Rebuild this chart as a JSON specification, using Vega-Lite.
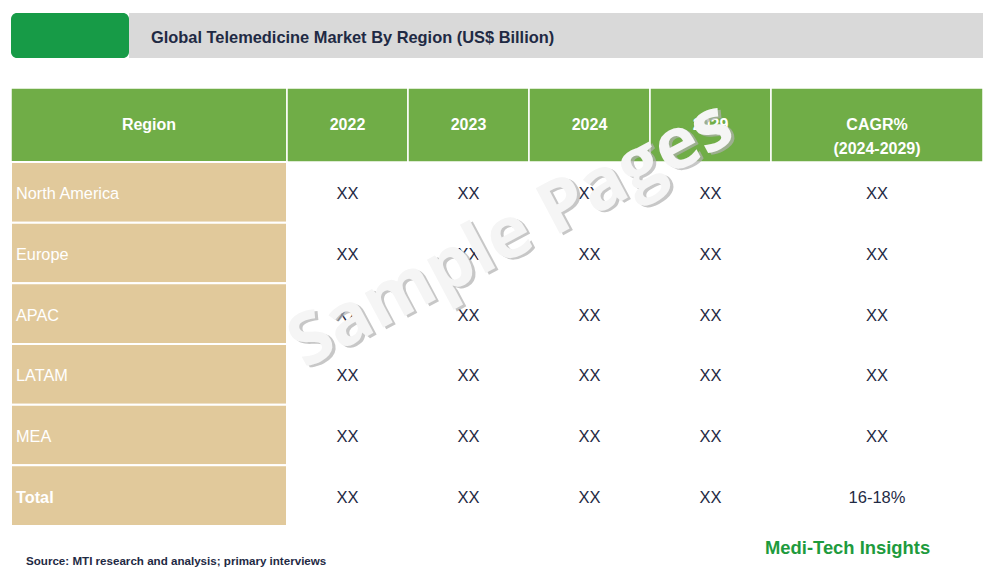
{
  "$schema": "https://vega.github.io/schema/vega-lite/v6.json",
  "padding": {"left": 10, "top": 13, "right": 10, "bottom": 0},
  "background": "white",
  "spacing": 29,
  "datasets": {
    "titlebar": [{"title": "Global Telemedicine Market By Region (US$ Billion)"}],
    "header": [
      {"column": "Region", "label": "Region"},
      {"column": "2022", "label": "2022"},
      {"column": "2023", "label": "2023"},
      {"column": "2024", "label": "2024"},
      {"column": "2029", "label": "2029"},
      {"column": "CAGR%", "label": "CAGR%\n(2024-2029)"}
    ],
    "cells": [
      {"region": "North America", "column": "Region", "value": "North America"},
      {"region": "North America", "column": "2022", "value": "XX"},
      {"region": "North America", "column": "2023", "value": "XX"},
      {"region": "North America", "column": "2024", "value": "XX"},
      {"region": "North America", "column": "2029", "value": "XX"},
      {"region": "North America", "column": "CAGR%", "value": "XX"},
      {"region": "Europe", "column": "Region", "value": "Europe"},
      {"region": "Europe", "column": "2022", "value": "XX"},
      {"region": "Europe", "column": "2023", "value": "XX"},
      {"region": "Europe", "column": "2024", "value": "XX"},
      {"region": "Europe", "column": "2029", "value": "XX"},
      {"region": "Europe", "column": "CAGR%", "value": "XX"},
      {"region": "APAC", "column": "Region", "value": "APAC"},
      {"region": "APAC", "column": "2022", "value": "XX"},
      {"region": "APAC", "column": "2023", "value": "XX"},
      {"region": "APAC", "column": "2024", "value": "XX"},
      {"region": "APAC", "column": "2029", "value": "XX"},
      {"region": "APAC", "column": "CAGR%", "value": "XX"},
      {"region": "LATAM", "column": "Region", "value": "LATAM"},
      {"region": "LATAM", "column": "2022", "value": "XX"},
      {"region": "LATAM", "column": "2023", "value": "XX"},
      {"region": "LATAM", "column": "2024", "value": "XX"},
      {"region": "LATAM", "column": "2029", "value": "XX"},
      {"region": "LATAM", "column": "CAGR%", "value": "XX"},
      {"region": "MEA", "column": "Region", "value": "MEA"},
      {"region": "MEA", "column": "2022", "value": "XX"},
      {"region": "MEA", "column": "2023", "value": "XX"},
      {"region": "MEA", "column": "2024", "value": "XX"},
      {"region": "MEA", "column": "2029", "value": "XX"},
      {"region": "MEA", "column": "CAGR%", "value": "XX"},
      {"region": "Total", "column": "Region", "value": "Total"},
      {"region": "Total", "column": "2022", "value": "XX"},
      {"region": "Total", "column": "2023", "value": "XX"},
      {"region": "Total", "column": "2024", "value": "XX"},
      {"region": "Total", "column": "2029", "value": "XX"},
      {"region": "Total", "column": "CAGR%", "value": "16-18%"}
    ]
  },
  "vconcat": [
    {
      "spacing": 0,
      "hconcat": [
        {
          "width": 118, "height": 45,
          "data": {"name": "titlebar"},
          "view": {"fill": "#179b47", "cornerRadius": 6, "stroke": null},
          "mark": {"type": "text"},
          "encoding": {"text": {"value": ""}}
        },
        {
          "width": 854, "height": 45,
          "data": {"name": "titlebar"},
          "view": {"fill": "#d9d9d9", "stroke": null},
          "mark": {"type": "text", "align": "left", "baseline": "middle", "font": "Liberation Sans, Arial, sans-serif", "fontSize": 16.4, "fontWeight": "bold", "color": "#1f2a44"},
          "encoding": {"text": {"field": "title"}, "x": {"value": 22}, "y": {"value": 25}}
        }
      ]
    },
    {
      "width": 972,
      "height": 438,
      "resolve": {"scale": {"x": "independent", "y": "independent"}},
      "layer": [
        {
          "data": {"name": "header"},
          "transform": [{"filter": "datum.column === 'Region'"}],
          "mark": {"type": "rect", "fill": "#70ad47", "stroke": "white", "strokeWidth": 1.5},
          "encoding": {
            "x": {"field": "column", "type": "nominal", "axis": null, "scale": {"type": "band", "domain": ["Region"], "range": [0, 276], "paddingInner": 0, "paddingOuter": 0}},
            "y": {"datum": "Header", "type": "nominal", "axis": null, "scale": {"type": "band", "domain": ["Header"], "range": [0, 74], "paddingInner": 0, "paddingOuter": 0}}
          }
        },
        {
          "data": {"name": "header"},
          "transform": [{"filter": "datum.column === 'Region'"}],
          "mark": {"type": "text", "color": "white", "fontWeight": "bold", "fontSize": 16, "font": "Liberation Sans, Arial, sans-serif", "baseline": "middle"},
          "encoding": {
            "x": {"field": "column", "type": "nominal", "axis": null, "bandPosition": 0.5, "scale": {"type": "band", "domain": ["Region"], "range": [0, 276], "paddingInner": 0, "paddingOuter": 0}},
            "y": {"datum": "Header", "type": "nominal", "axis": null, "bandPosition": 0.5, "scale": {"type": "band", "domain": ["Header"], "range": [0, 74], "paddingInner": 0, "paddingOuter": 0}},
            "text": {"field": "label"}
          }
        },
        {
          "data": {"name": "header"},
          "transform": [{"filter": "datum.column !== 'Region' && datum.column !== 'CAGR%'"}],
          "mark": {"type": "rect", "fill": "#70ad47", "stroke": "white", "strokeWidth": 1.5},
          "encoding": {
            "x": {"field": "column", "type": "nominal", "axis": null, "scale": {"type": "band", "domain": ["2022", "2023", "2024", "2029"], "range": [276, 760], "paddingInner": 0, "paddingOuter": 0}},
            "y": {"datum": "Header", "type": "nominal", "axis": null, "scale": {"type": "band", "domain": ["Header"], "range": [0, 74], "paddingInner": 0, "paddingOuter": 0}}
          }
        },
        {
          "data": {"name": "header"},
          "transform": [{"filter": "datum.column !== 'Region' && datum.column !== 'CAGR%'"}],
          "mark": {"type": "text", "color": "white", "fontWeight": "bold", "fontSize": 16, "font": "Liberation Sans, Arial, sans-serif", "baseline": "middle"},
          "encoding": {
            "x": {"field": "column", "type": "nominal", "axis": null, "bandPosition": 0.5, "scale": {"type": "band", "domain": ["2022", "2023", "2024", "2029"], "range": [276, 760], "paddingInner": 0, "paddingOuter": 0}},
            "y": {"datum": "Header", "type": "nominal", "axis": null, "bandPosition": 0.5, "scale": {"type": "band", "domain": ["Header"], "range": [0, 74], "paddingInner": 0, "paddingOuter": 0}},
            "text": {"field": "label"}
          }
        },
        {
          "data": {"name": "header"},
          "transform": [{"filter": "datum.column === 'CAGR%'"}],
          "mark": {"type": "rect", "fill": "#70ad47", "stroke": "white", "strokeWidth": 1.5},
          "encoding": {
            "x": {"field": "column", "type": "nominal", "axis": null, "scale": {"type": "band", "domain": ["CAGR%"], "range": [760, 972], "paddingInner": 0, "paddingOuter": 0}},
            "y": {"datum": "Header", "type": "nominal", "axis": null, "scale": {"type": "band", "domain": ["Header"], "range": [0, 74], "paddingInner": 0, "paddingOuter": 0}}
          }
        },
        {
          "data": {"name": "header"},
          "transform": [{"filter": "datum.column === 'CAGR%'"}],
          "mark": {"type": "text", "color": "white", "fontWeight": "bold", "fontSize": 16, "lineBreak": "\n", "lineHeight": 24, "font": "Liberation Sans, Arial, sans-serif", "baseline": "middle"},
          "encoding": {
            "x": {"field": "column", "type": "nominal", "axis": null, "bandPosition": 0.5, "scale": {"type": "band", "domain": ["CAGR%"], "range": [760, 972], "paddingInner": 0, "paddingOuter": 0}},
            "y": {"datum": "Header", "type": "nominal", "axis": null, "bandPosition": 0.5, "scale": {"type": "band", "domain": ["Header"], "range": [0, 74], "paddingInner": 0, "paddingOuter": 0}},
            "text": {"field": "label"}
          }
        },
        {
          "data": {"name": "cells"},
          "transform": [{"filter": "datum.column === 'Region'"}],
          "mark": {"type": "rect", "fill": "#e1c99b", "stroke": "white", "strokeWidth": 2},
          "encoding": {
            "x": {"field": "column", "type": "nominal", "axis": null, "scale": {"type": "band", "domain": ["Region"], "range": [0, 276], "paddingInner": 0, "paddingOuter": 0}},
            "y": {"field": "region", "type": "nominal", "axis": null, "scale": {"type": "band", "domain": ["North America", "Europe", "APAC", "LATAM", "MEA", "Total"], "range": [74, 438], "paddingInner": 0, "paddingOuter": 0}}
          }
        },
        {
          "data": {"name": "cells"},
          "transform": [{"filter": "datum.column === 'Region' && datum.region !== 'Total'"}],
          "mark": {"type": "text", "color": "white", "fontSize": 16.3, "align": "left", "baseline": "middle", "dx": 5, "dy": 2, "font": "Liberation Sans, Arial, sans-serif"},
          "encoding": {
            "x": {"field": "column", "type": "nominal", "axis": null, "bandPosition": 0, "scale": {"type": "band", "domain": ["Region"], "range": [0, 276], "paddingInner": 0, "paddingOuter": 0}},
            "y": {"field": "region", "type": "nominal", "axis": null, "bandPosition": 0.5, "scale": {"type": "band", "domain": ["North America", "Europe", "APAC", "LATAM", "MEA", "Total"], "range": [74, 438], "paddingInner": 0, "paddingOuter": 0}},
            "text": {"field": "value"}
          }
        },
        {
          "data": {"name": "cells"},
          "transform": [{"filter": "datum.column === 'Region' && datum.region === 'Total'"}],
          "mark": {"type": "text", "color": "white", "fontSize": 16.3, "fontWeight": "bold", "align": "left", "baseline": "middle", "dx": 5, "dy": 2, "font": "Liberation Sans, Arial, sans-serif"},
          "encoding": {
            "x": {"field": "column", "type": "nominal", "axis": null, "bandPosition": 0, "scale": {"type": "band", "domain": ["Region"], "range": [0, 276], "paddingInner": 0, "paddingOuter": 0}},
            "y": {"field": "region", "type": "nominal", "axis": null, "bandPosition": 0.5, "scale": {"type": "band", "domain": ["North America", "Europe", "APAC", "LATAM", "MEA", "Total"], "range": [74, 438], "paddingInner": 0, "paddingOuter": 0}},
            "text": {"field": "value"}
          }
        },
        {
          "data": {"name": "cells"},
          "transform": [{"filter": "datum.column !== 'Region' && datum.column !== 'CAGR%'"}],
          "mark": {"type": "text", "color": "#1f2a44", "fontSize": 16.5, "baseline": "middle", "dy": 2, "font": "Liberation Sans, Arial, sans-serif"},
          "encoding": {
            "x": {"field": "column", "type": "nominal", "axis": null, "bandPosition": 0.5, "scale": {"type": "band", "domain": ["2022", "2023", "2024", "2029"], "range": [276, 760], "paddingInner": 0, "paddingOuter": 0}},
            "y": {"field": "region", "type": "nominal", "axis": null, "bandPosition": 0.5, "scale": {"type": "band", "domain": ["North America", "Europe", "APAC", "LATAM", "MEA", "Total"], "range": [74, 438], "paddingInner": 0, "paddingOuter": 0}},
            "text": {"field": "value"}
          }
        },
        {
          "data": {"name": "cells"},
          "transform": [{"filter": "datum.column === 'CAGR%'"}],
          "mark": {"type": "text", "color": "#1f2a44", "fontSize": 16.5, "baseline": "middle", "dy": 2, "font": "Liberation Sans, Arial, sans-serif"},
          "encoding": {
            "x": {"field": "column", "type": "nominal", "axis": null, "bandPosition": 0.5, "scale": {"type": "band", "domain": ["CAGR%"], "range": [760, 972], "paddingInner": 0, "paddingOuter": 0}},
            "y": {"field": "region", "type": "nominal", "axis": null, "bandPosition": 0.5, "scale": {"type": "band", "domain": ["North America", "Europe", "APAC", "LATAM", "MEA", "Total"], "range": [74, 438], "paddingInner": 0, "paddingOuter": 0}},
            "text": {"field": "value"}
          }
        },
        {
          "data": {"values": [{"label": "Sample Pages"}]},
          "mark": {"type": "text", "angle": -28, "font": "Open Sans", "fontWeight": "bold", "fontSize": 72, "color": "#b0b0b0", "opacity": 0.7, "dx": 2, "dy": 3, "align": "center", "baseline": "middle"},
          "encoding": {
            "x": {"datum": "2023", "type": "nominal", "bandPosition": 0.85, "axis": null, "scale": {"type": "band", "domain": ["2022", "2023", "2024", "2029"], "range": [276, 760], "paddingInner": 0, "paddingOuter": 0}},
            "y": {"datum": "Europe", "type": "nominal", "bandPosition": 0.2, "axis": null, "scale": {"type": "band", "domain": ["North America", "Europe", "APAC", "LATAM", "MEA", "Total"], "range": [74, 438], "paddingInner": 0, "paddingOuter": 0}},
            "text": {"field": "label"}
          }
        },
        {
          "data": {"values": [{"label": "Sample Pages"}]},
          "mark": {"type": "text", "angle": -28, "font": "Open Sans", "fontWeight": "bold", "fontSize": 72, "color": "#f5f5f5", "align": "center", "baseline": "middle"},
          "encoding": {
            "x": {"datum": "2023", "type": "nominal", "bandPosition": 0.85, "axis": null, "scale": {"type": "band", "domain": ["2022", "2023", "2024", "2029"], "range": [276, 760], "paddingInner": 0, "paddingOuter": 0}},
            "y": {"datum": "Europe", "type": "nominal", "bandPosition": 0.2, "axis": null, "scale": {"type": "band", "domain": ["North America", "Europe", "APAC", "LATAM", "MEA", "Total"], "range": [74, 438], "paddingInner": 0, "paddingOuter": 0}},
            "text": {"field": "label"}
          }
        },
        {
          "data": {"values": [{"label": "Medi-Tech Insights"}]},
          "mark": {"type": "text", "color": "#1e9b3d", "fontSize": 18.4, "fontWeight": "bold", "align": "left", "baseline": "middle", "dx": -6, "dy": 22, "font": "Liberation Sans, Arial, sans-serif"},
          "encoding": {
            "x": {"datum": "CAGR%", "type": "nominal", "bandPosition": 0, "axis": null, "scale": {"type": "band", "domain": ["CAGR%"], "range": [760, 972], "paddingInner": 0, "paddingOuter": 0}},
            "y": {"datum": "Total", "type": "nominal", "bandPosition": 1, "axis": null, "scale": {"type": "band", "domain": ["North America", "Europe", "APAC", "LATAM", "MEA", "Total"], "range": [74, 438], "paddingInner": 0, "paddingOuter": 0}},
            "text": {"field": "label"}
          }
        },
        {
          "data": {"values": [{"label": "Source: MTI research and analysis; primary interviews"}]},
          "mark": {"type": "text", "color": "#1f2a44", "fontSize": 11.6, "fontWeight": "bold", "align": "left", "baseline": "middle", "dx": 15, "dy": 36, "font": "Liberation Sans, Arial, sans-serif"},
          "encoding": {
            "x": {"datum": "Region", "type": "nominal", "bandPosition": 0, "axis": null, "scale": {"type": "band", "domain": ["Region"], "range": [0, 276], "paddingInner": 0, "paddingOuter": 0}},
            "y": {"datum": "Total", "type": "nominal", "bandPosition": 1, "axis": null, "scale": {"type": "band", "domain": ["North America", "Europe", "APAC", "LATAM", "MEA", "Total"], "range": [74, 438], "paddingInner": 0, "paddingOuter": 0}},
            "text": {"field": "label"}
          }
        }
      ]
    }
  ],
  "config": {
    "view": {"stroke": null},
    "concat": {"spacing": 0}
  }
}
